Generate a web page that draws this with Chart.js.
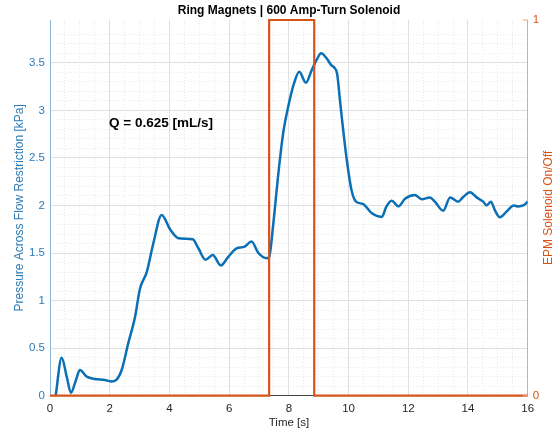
<!DOCTYPE html>
<html>
<head>
<meta charset="utf-8">
<script src="https://cdn.jsdelivr.net/npm/chart.js@4"></script>
<style>
  body { margin: 0; background: #fff; }
  #wrap { width: 558px; height: 436px; }
</style>
</head>
<body>
<div id="wrap"><canvas id="chart" width="558" height="436"></canvas></div>
<script>
// pressure trace
const timeS = [0.19, 0.39, 0.56, 0.70, 0.87, 1.00, 1.23, 1.51, 1.84, 2.04, 2.23, 2.40, 2.62, 2.85, 3.01, 3.24, 3.46, 3.74, 4.02, 4.30,
  4.55, 4.78, 4.97, 5.21, 5.45, 5.72, 5.97, 6.25, 6.50, 6.75, 6.98, 7.26, 7.34, 7.48, 7.65, 7.81, 7.98, 8.17, 8.35, 8.57,
  8.76, 8.93, 9.08, 9.27, 9.42, 9.52, 9.62, 9.71, 9.80, 9.94, 10.10, 10.25, 10.49, 10.77, 11.11, 11.27, 11.44, 11.67, 11.89, 12.22,
  12.45, 12.72, 12.89, 13.17, 13.40, 13.67, 13.84, 14.07, 14.29, 14.51, 14.62, 14.77, 14.90, 15.07, 15.29, 15.54, 15.68, 15.85, 16.0];
const pressureKPa = [0, 0.40, 0.20, 0.03, 0.165, 0.27, 0.20, 0.175, 0.165, 0.15, 0.17, 0.27, 0.55, 0.83, 1.12, 1.30, 1.60, 1.90, 1.75, 1.655,
  1.65, 1.645, 1.55, 1.43, 1.48, 1.37, 1.46, 1.55, 1.565, 1.62, 1.50, 1.445, 1.46, 1.81, 2.34, 2.76, 3.04, 3.28, 3.405, 3.29,
  3.42, 3.53, 3.60, 3.545, 3.475, 3.45, 3.38, 3.11, 2.85, 2.48, 2.16, 2.04, 2.015, 1.92, 1.88, 1.99, 2.05, 1.99, 2.07, 2.11,
  2.065, 2.085, 2.04, 1.945, 2.085, 2.04, 2.09, 2.14, 2.085, 2.04, 2.00, 2.04, 1.95, 1.875, 1.935, 2.00, 1.99, 2.00, 2.04];

// solenoid on/off
const solT = [0, 7.34, 7.34, 8.85, 8.85, 16];
const solOn = [0, 0, 1, 1, 0, 0];

const xTicks = [0, 2, 4, 6, 8, 10, 12, 14, 16];
const yTicks = [0, 0.5, 1, 1.5, 2, 2.5, 3, 3.5];
const y2Ticks = [0, 1];

const BLUE = '#0b6fb6';
const BLUE_TXT = '#2c7bb6';
const ORANGE = '#d95319';
const FONT = '"Liberation Sans", Arial, sans-serif';

const toPts = (xs, ys) => xs.map((x, i) => ({ x: x, y: ys[i] }));
const keep = list => scale => { scale.ticks = list.map(v => ({ value: v })); };
const plain = v => String(+Number(v).toFixed(2));
const minorOnly = (major, max) => scale => {
  scale.ticks = scale.ticks.filter(t => {
    const r = t.value / major;
    return Math.abs(r - Math.round(r)) > 1e-6 && t.value < max - 1e-6;
  });
};

const textPlugin = {
  id: 'texts',
  afterDraw(chart) {
    const ctx = chart.ctx;
    const a = chart.chartArea;
    ctx.save();
    ctx.textAlign = 'center';
    ctx.textBaseline = 'middle';

    ctx.fillStyle = '#000';
    ctx.font = 'bold 12px ' + FONT;
    ctx.fillText('Ring Magnets | 600 Amp-Turn Solenoid', 289, 11);

    ctx.font = 'bold 13.5px ' + FONT;
    ctx.fillText('Q = 0.625 [mL/s]', 161, 123);

    ctx.fillStyle = '#262626';
    ctx.font = '11.5px ' + FONT;
    ctx.fillText('Time [s]', 289, 423);

    const midY = (a.top + a.bottom) / 2;
    ctx.font = '12px ' + FONT;
    ctx.fillStyle = BLUE_TXT;
    ctx.translate(20, midY);
    ctx.rotate(-Math.PI / 2);
    ctx.fillText('Pressure Across Flow Restriction [kPa]', 0, 0);
    ctx.setTransform(1, 0, 0, 1, 0, 0);

    ctx.fillStyle = ORANGE;
    ctx.translate(549, midY);
    ctx.rotate(-Math.PI / 2);
    ctx.fillText('EPM Solenoid On/Off', 0, 0);
    ctx.setTransform(1, 0, 0, 1, 0, 0);

    // inward tick marks on the right axis
    const y2 = chart.scales.y2;
    ctx.strokeStyle = '#e3a88c';
    ctx.lineWidth = 1;
    y2Ticks.forEach(v => {
      const py = y2.getPixelForValue(v);
      ctx.beginPath();
      ctx.moveTo(a.right - 5, py);
      ctx.lineTo(a.right, py);
      ctx.stroke();
    });
    ctx.restore();
  }
};

new Chart(document.getElementById('chart'), {
  type: 'line',
  data: {
    datasets: [
      {
        label: 'EPM Solenoid',
        data: toPts(solT, solOn),
        yAxisID: 'y2',
        borderColor: ORANGE,
        borderWidth: 2.2,
        pointRadius: 0,
        tension: 0,
        clip: false
      },
      {
        label: 'Pressure',
        data: toPts(timeS, pressureKPa),
        yAxisID: 'y',
        borderColor: BLUE,
        borderWidth: 2.5,
        pointRadius: 0,
        cubicInterpolationMode: 'monotone'
      }
    ]
  },
  options: {
    responsive: false,
    animation: false,
    layout: { padding: { top: 20, left: 0, right: 0, bottom: 0 } },
    plugins: { legend: { display: false }, tooltip: { enabled: false }, title: { display: false } },
    scales: {
      xMinor: {
        type: 'linear', position: 'bottom', min: 0, max: 16,
        ticks: { display: false, stepSize: 0.5 },
        afterBuildTicks: minorOnly(2, 16.5),
        grid: { color: '#e9e9e9', lineWidth: 1, drawTicks: false },
        border: { display: false, dash: [1, 2] },
        afterFit: s => { s.height = 0; }
      },
      yMinor: {
        type: 'linear', position: 'left', min: 0, max: 3.95,
        ticks: { display: false, stepSize: 0.1 },
        afterBuildTicks: minorOnly(0.5, 3.95),
        grid: { color: '#e9e9e9', lineWidth: 1, drawTicks: false },
        border: { display: false, dash: [1, 2] },
        afterFit: s => { s.width = 0; }
      },
      x: {
        type: 'linear', position: 'bottom', min: 0, max: 16,
        afterBuildTicks: keep(xTicks),
        ticks: { color: '#262626', font: { family: FONT, size: 11.5 }, padding: 6, maxRotation: 0, callback: plain },
        grid: { color: '#e0e0e0', drawTicks: false },
        border: { color: '#444', width: 1 },
        afterFit: s => { s.height = 40.3; }
      },
      y: {
        type: 'linear', position: 'left', min: 0, max: 3.95,
        afterBuildTicks: keep(yTicks),
        ticks: { color: BLUE_TXT, font: { family: FONT, size: 11.5 }, padding: 5, callback: plain },
        grid: { color: '#e0e0e0', drawTicks: false },
        border: { color: '#8db6d6', width: 1 },
        afterFit: s => { s.width = 50; }
      },
      y2: {
        type: 'linear', position: 'right', min: 0, max: 1,
        afterBuildTicks: keep(y2Ticks),
        ticks: { color: ORANGE, font: { family: FONT, size: 11.5 }, padding: 5, callback: plain },
        grid: { display: false, drawOnChartArea: false, drawTicks: false },
        border: { color: '#e3a88c', width: 1 },
        afterFit: s => { s.width = 30.3; }
      }
    }
  },
  plugins: [textPlugin]
});
</script>
</body>
</html>
